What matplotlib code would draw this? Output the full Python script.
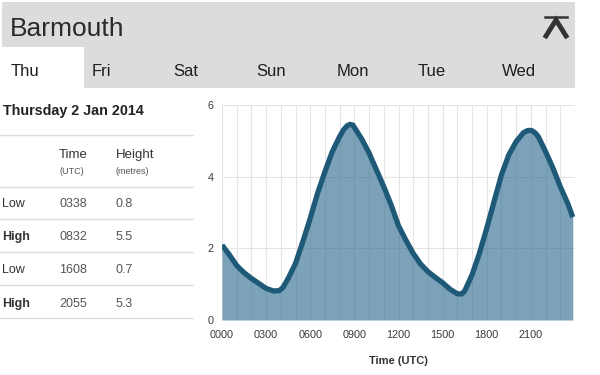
import matplotlib
matplotlib.use('Agg')
import matplotlib.pyplot as plt
from matplotlib.patches import Rectangle
from matplotlib.lines import Line2D

plt.rcParams['font.family'] = ['Liberation Sans', 'DejaVu Sans']

W, H = 600, 375

place = 'Barmouth'
days = ['Thu', 'Fri', 'Sat', 'Sun', 'Mon', 'Tue', 'Wed']
date_title = 'Thursday 2 Jan 2014'
tide_kind = ['Low', 'High', 'Low', 'High']
tide_time = ['0338', '0832', '1608', '2055']
tide_height = ['0.8', '5.5', '0.7', '5.3']

# curve (hours, metres)
hours = [0, 0.5, 1, 1.5, 2, 2.5, 3, 3.5, 3.9, 4.15, 4.5, 5, 5.5, 6, 6.5, 7, 7.5,
         8, 8.25, 8.5, 8.7, 8.9, 9.1, 9.5, 10, 10.5, 11, 11.5, 12, 12.5, 13, 13.5,
         14, 14.5, 15, 15.5, 16, 16.3, 16.5, 17, 17.5, 18, 18.5, 19, 19.5, 20,
         20.5, 20.8, 21.05, 21.3, 21.5, 22, 22.5, 23, 23.5, 23.85]
heights = [2.09, 1.82, 1.52, 1.32, 1.16, 1.02, 0.88, 0.81, 0.82, 0.91, 1.16, 1.58,
           2.19, 2.84, 3.54, 4.14, 4.70, 5.12, 5.30, 5.42, 5.46, 5.44, 5.31, 5.05,
           4.66, 4.19, 3.72, 3.21, 2.63, 2.23, 1.86, 1.56, 1.35, 1.19, 1.04, 0.86,
           0.73, 0.73, 0.81, 1.26, 1.86, 2.56, 3.31, 4.05, 4.61, 4.98, 5.23, 5.29,
           5.29, 5.22, 5.12, 4.70, 4.24, 3.72, 3.26, 2.87]
xticks = [0, 3, 6, 9, 12, 15, 18, 21]
xticklabels = ['0000', '0300', '0600', '0900', '1200', '1500', '1800', '2100']
yticks = [0, 2, 4, 6]


def fx(x):
    return x / W


def fy(y):
    return 1 - y / H


fig = plt.figure(figsize=(6, 3.75), dpi=100)

# header band and active tab
fig.add_artist(Rectangle((fx(2), fy(88)), fx(573), 86 / H, transform=fig.transFigure,
                         color='#dcdcdc', lw=0))
fig.add_artist(Rectangle((fx(2), fy(88)), fx(82), 41 / H, transform=fig.transFigure,
                         color='white', lw=0))
fig.text(fx(10), fy(36), place, fontsize=19, color='#2a2a2a', va='baseline')

# "back to top" icon
fig.add_artist(Line2D([fx(545), fx(567)], [fy(16.5), fy(16.5)], transform=fig.transFigure,
                      color='#333333', lw=1.8))
fig.add_artist(Line2D([fx(546), fx(556), fx(566)], [fy(36), fy(20), fy(36)],
                      transform=fig.transFigure, color='#333333', lw=3.5,
                      solid_joinstyle='miter'))

tab_x = [11, 92, 173, 256, 337, 418, 502]
for d, x in zip(days, tab_x):
    fig.text(fx(x), fy(76), d, fontsize=12, color='#1e1e1e', va='baseline')

# tide table
fig.text(fx(3), fy(115), date_title, fontsize=10.3, fontweight='bold', color='#222222',
         va='baseline')
for y in [135, 187, 219, 252, 285, 318]:
    fig.add_artist(Line2D([0, fx(193)], [fy(y), fy(y)], transform=fig.transFigure,
                          color='#dddddd', lw=1))
fig.text(fx(59), fy(158), 'Time', fontsize=9.5, color='#333333', va='baseline')
fig.text(fx(116), fy(158), 'Height', fontsize=9.5, color='#333333', va='baseline')
fig.text(fx(59), fy(174), '(UTC)', fontsize=6.5, color='#555555', va='baseline')
fig.text(fx(116), fy(174), '(metres)', fontsize=6.5, color='#555555', va='baseline')
row_y = [207, 240, 273, 307]
for k, t, h, y in zip(tide_kind, tide_time, tide_height, row_y):
    fig.text(fx(2), fy(y), k, fontsize=9, color='#333333', va='baseline',
             fontweight='bold' if k == 'High' else 'normal')
    fig.text(fx(59), fy(y), t, fontsize=9, color='#555555', va='baseline')
    fig.text(fx(116), fy(y), h, fontsize=9, color='#555555', va='baseline')

# tide chart
ax = fig.add_axes([fx(222), fy(320), (575 - 222) / W, (320 - 105) / H])
ax.set_xlim(0, 24)
ax.set_ylim(0, 6)
ax.set_xticks(xticks)
ax.set_xticklabels(xticklabels)
ax.set_xticks(range(0, 25), minor=True)
ax.set_yticks(yticks)
ax.grid(True, which='both', color='#e4e4e4', lw=0.8)
ax.set_axisbelow(True)
for s in ax.spines.values():
    s.set_visible(False)
ax.tick_params(which='both', length=0, labelsize=7.8, labelcolor='#3a3a3a')
ax.tick_params(axis='x', pad=7)
ax.tick_params(axis='y', pad=6)

ax.fill_between(hours, heights, 0, color='#2b6a8d', alpha=0.62, lw=0, zorder=2)
ax.plot(hours, heights, color='#1e5a78', lw=3.8, solid_capstyle='butt',
        solid_joinstyle='round', zorder=3)
ax.set_xlabel('Time (UTC)', fontsize=8, fontweight='bold', color='#333333', labelpad=12)

fig.savefig('out.png', dpi=100)
